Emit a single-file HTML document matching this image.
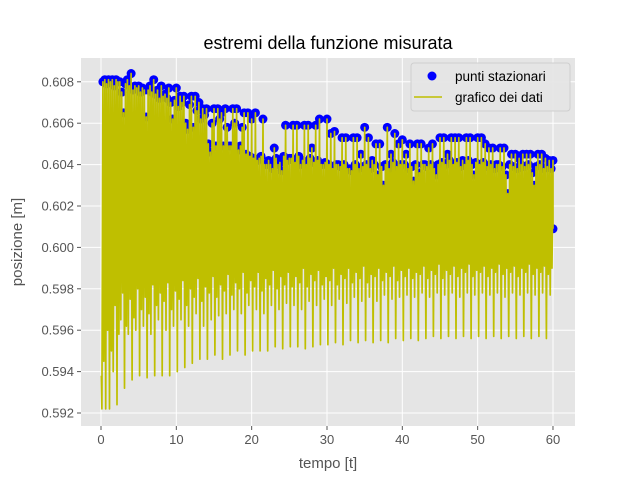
<!DOCTYPE html>
<html><head><meta charset="utf-8"><style>
body{margin:0;background:#fff;}
svg text{font-family:"Liberation Sans","DejaVu Sans",sans-serif;}
</style></head><body>
<svg id="chart" width="640" height="480" xmlns="http://www.w3.org/2000/svg">
<rect x="0" y="0" width="640" height="480" fill="#fff"/>
<rect x="81" y="58" width="494" height="368" fill="#e5e5e5"/>
<g id="grid"></g><g id="series"></g><g id="ticks"></g>
<text x="328" y="49" text-anchor="middle" font-size="18" fill="#000">estremi della funzione misurata</text>
<text x="328" y="468" text-anchor="middle" font-size="15" fill="#555">tempo [t]</text>
<text x="22" y="242" text-anchor="middle" font-size="15" fill="#555" transform="rotate(-90 22 242)">posizione [m]</text>
<g>
<rect x="411" y="63" width="159" height="48" fill="#e5e5e5" stroke="#ccc" rx="3" opacity="0.9"/>
<circle cx="432" cy="76" r="4.5" fill="#0000ff"/>
<text x="455" y="81" font-size="13.5" fill="#000">punti stazionari</text>
<line x1="414" y1="97" x2="442" y2="97" stroke="#bfbf00" stroke-width="1.5"/>
<text x="455" y="102" font-size="13.5" fill="#000">grafico dei dati</text>
</g>
</svg>
<script>
const maxima=[.6081,.6081,.6081,.6081,.6080,.6065,.6081,.6084,.6078,.6078,
.6077,.6063,.6078,.6081,.6076,.6078,.6074,.6077,.6062,.6077,
.6073,.6073,.6057,.6073,.6073,.6070,.6067,.6067,.6046,.6067,
.6067,.6065,.6067,.6049,.6067,.6067,.6049,.6065,.6065,.6062,
.6065,.6043,.6062,.6040,.6040,.6048,.6040,.6037,.6059,.6043,
.6059,.6059,.6040,.6059,.6059,.6048,.6059,.6062,.6040,.6062,
.6055,.6056,.6040,.6053,.6053,.6038,.6053,.6053,.6045,.6058,
.6053,.6042,.6050,.6050,.6030,.6058,.6045,.6055,.6050,.6052,
.6045,.6050,.6032,.6050,.6050,.6040,.6048,.6050,.6035,.6053,
.6053,.6045,.6053,.6053,.6053,.6042,.6053,.6053,.6035,.6053,
.6053,.6050,.6048,.6048,.6040,.6048,.6048,.6026,.6045,.6045,
.6043,.6045,.6045,.6045,.6030,.6045,.6045,.6043,.6042,.6042];
const minima=[.5922,.5922,.5922,.5940,.5924,.5965,.5932,.5958,.5936,.5960,
.5938,.5962,.5937,.5958,.5938,.5965,.5938,.5960,.5938,.5962,
.5940,.5965,.5942,.5962,.5944,.5968,.5946,.5962,.5946,.5965,
.5948,.5967,.5946,.5968,.5948,.5970,.5950,.5968,.5948,.5972,
.5950,.5970,.5950,.5968,.5950,.5972,.5952,.5970,.5951,.5973,
.5952,.5972,.5952,.5970,.5951,.5974,.5952,.5972,.5953,.5975,
.5953,.5972,.5954,.5975,.5953,.5973,.5955,.5976,.5954,.5974,
.5955,.5976,.5954,.5974,.5955,.5977,.5954,.5975,.5956,.5976,
.5955,.5977,.5956,.5976,.5955,.5978,.5956,.5976,.5957,.5978,
.5956,.5977,.5957,.5978,.5956,.5976,.5957,.5978,.5956,.5977,
.5957,.5978,.5956,.5977,.5957,.5978,.5956,.5976,.5957,.5978,
.5956,.5977,.5957,.5978,.5956,.5977,.5957,.5978,.5956,.5977];
const secMax=[.6080,.6079,.6080,.6078,.6080,.6075,.6079,.6078,.6076,.6077,
.6075,.6076,.6076,.6075,.6074,.6072,.6073,.6072,.6070,.6071,
.6068,.6070,.6060,.6069,.6058,.6066,.6062,.6064,.6050,.6060,
.6049,.6062,.6049,.6058,.6049,.6060,.6047,.6058,.6045,.6044,
.6043,.6042,.6044,.6040,.6042,.6038,.6043,.6041,.6044,.6042,
.6043,.6041,.6044,.6042,.6040,.6043,.6041,.6042,.6040,.6041,
.6040,.6038,.6040,.6039,.6040,.6038,.6037,.6040,.6038,.6039,
.6040,.6038,.6040,.6035,.6039,.6040,.6038,.6041,.6039,.6040,
.6040,.6038,.6039,.6040,.6036,.6040,.6039,.6040,.6038,.6040,
.6041,.6040,.6042,.6040,.6041,.6039,.6040,.6042,.6040,.6041,
.6040,.6041,.6039,.6040,.6038,.6040,.6039,.6035,.6040,.6039,
.6038,.6040,.6039,.6040,.6036,.6039,.6040,.6038,.6039,.6038];
const secMin=[.5945,.5960,.5950,.5972,.5958,.5978,.5962,.5975,.5966,.5980,
.5970,.5976,.5968,.5982,.5972,.5978,.5974,.5983,.5970,.5979,
.5975,.5984,.5972,.5980,.5976,.5985,.5974,.5981,.5978,.5986,
.5976,.5982,.5979,.5987,.5977,.5983,.5980,.5988,.5978,.5984,
.5981,.5988,.5979,.5985,.5982,.5989,.5980,.5986,.5982,.5988,
.5981,.5986,.5983,.5990,.5981,.5987,.5984,.5989,.5982,.5986,
.5984,.5990,.5982,.5987,.5985,.5990,.5983,.5988,.5985,.5991,
.5983,.5987,.5986,.5990,.5984,.5988,.5986,.5991,.5984,.5989,
.5986,.5990,.5985,.5988,.5987,.5991,.5985,.5989,.5987,.5992,
.5985,.5989,.5987,.5991,.5986,.5990,.5988,.5992,.5986,.5989,
.5988,.5991,.5986,.5990,.5988,.5992,.5987,.5990,.5988,.5991,
.5986,.5990,.5988,.5992,.5987,.5990,.5988,.5991,.5987,.5990];
const startValue=.5938, endValue=.6009;
const xTicks=[0,10,20,30,40,50,60];
const yTicks=[.592,.594,.596,.598,.600,.602,.604,.606,.608];
const dt=0.5;
const NS="http://www.w3.org/2000/svg";
const xs=t=>101+t*7.533;
const ys=v=>413-(v-0.592)/0.002*41.4;
function mk(tag,attrs,parent){const e=document.createElementNS(NS,tag);for(const k in attrs)e.setAttribute(k,attrs[k]);parent.appendChild(e);return e;}
const grid=document.getElementById('grid'),ticks=document.getElementById('ticks'),series=document.getElementById('series');
xTicks.forEach(t=>{
 const l=mk('line',{x1:xs(t),x2:xs(t),y1:58,y2:426,stroke:'#fff','stroke-width':1},grid);
 
 
 mk('line',{x1:xs(t),x2:xs(t),y1:426,y2:430,stroke:'#555'},ticks);
 const tx=mk('text',{x:xs(t),y:444,'text-anchor':'middle','font-size':13,fill:'#555'},ticks);
 tx.textContent=t;
 
 
});
yTicks.forEach(v=>{
 const l=mk('line',{x1:81,x2:575,y1:ys(v),y2:ys(v),stroke:'#fff','stroke-width':1},grid);
 
 
 mk('line',{x1:77,x2:81,y1:ys(v),y2:ys(v),stroke:'#555'},ticks);
 const tx=mk('text',{x:74,y:ys(v)+4.5,'text-anchor':'end','font-size':13,fill:'#555'},ticks);
 tx.textContent=v.toFixed(3);
 
 
});
maxima.forEach((v,i)=>{
 const c=mk('circle',{cx:xs(0.5+i*dt),cy:ys(v),r:4.5,fill:'#0000ff'},series);
 
 
});
secMax.forEach((v,i)=>{
 const c=mk('circle',{cx:xs(0.25+i*dt),cy:ys(v),r:4.5,fill:'#0000ff'},series);
 
 
});
const ec=mk('circle',{cx:xs(60),cy:ys(endValue),r:4.5,fill:'#0000ff'},series);


let pts=[[0.05,startValue]];
maxima.forEach((v,i)=>{
 pts.push([0.125+i*dt,minima[i]]);
 pts.push([0.25+i*dt,secMax[i]]);
 pts.push([0.375+i*dt,secMin[i]]);
 pts.push([0.5+i*dt,v]);
});
pts.push([60,endValue]);
const p=mk('polyline',{points:pts.map(q=>xs(q[0]).toFixed(1)+','+ys(q[1]).toFixed(1)).join(' '),fill:'none',stroke:'#bfbf00','stroke-width':1.7,'stroke-linejoin':'round'},series);


</script>
</body></html>
